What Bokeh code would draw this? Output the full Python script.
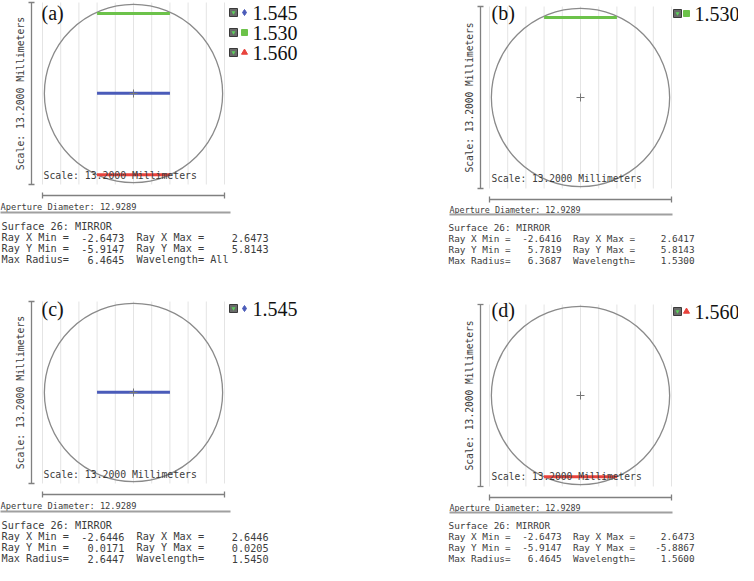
import numpy as np
from bokeh.plotting import figure
from bokeh.models import Range1d
from bokeh.core.properties import value
from bokeh.embed import file_html
from bokeh.resources import INLINE

# ---------------- data ----------------
panel_labels = ["(a)", "(b)", "(c)", "(d)"]
panel_waves = [["1.545", "1.530", "1.560"], ["1.530"], ["1.545"], ["1.560"]]

wave_names = ["1.545", "1.530", "1.560"]
wave_colors = ["#4a5bb9", "#6cc24a", "#e8433d"]
wave_markers = ["diamond", "square", "triangle"]
fp_x_min = [-2.6446, -2.6416, -2.6473]
fp_x_max = [2.6446, 2.6417, 2.6473]
fp_y_min = [0.0171, 5.7819, -5.9147]
fp_y_max = [0.0205, 5.8143, -5.8867]

ray_x_min = [-2.6473, -2.6416, -2.6446, -2.6473]
ray_x_max = [2.6473, 2.6417, 2.6446, 2.6473]
ray_y_min = [-5.9147, 5.7819, 0.0171, -5.9147]
ray_y_max = [5.8143, 5.8143, 0.0205, -5.8867]
max_radius = [6.4645, 6.3687, 2.6447, 6.4645]
wavelength_text = ["All", "1.5300", "1.5450", "1.5600"]
surface_name = "Surface 26: MIRROR"
aperture_diameter = 12.9289
scale_mm = 13.2000
grid_divisions = 10

# ---------------- layout (pixels) ----------------
W, H = 738, 565
S = 182.0 / scale_mm  # pixels per millimetre
centers = [(133, 93), (580, 97), (133, 392), (580, 395)]
legend_row0 = [-81, -84, -84, -84]
label_row = [-81, -85, -84, -86]

side_layout = [
    dict(vbar=-102, rot=-113, hbar=102, scl_x=-90, scl_y=82,
         ap_x=-133, ap_y=113, ap_size=8.7, sep_y=119, sep_x0=-134, sep_x1=97,
         sf_x=-132, sf_y0=133, sf_dy=11, sf_size=10.2,
         box=100, mk=111, tx=119, lab_x=-92, scl_size=9.8),
    dict(vbar=-100, rot=-111, hbar=102, scl_x=-89, scl_y=81,
         ap_x=-131, ap_y=112, ap_size=8.4, sep_y=117, sep_x0=-131, sep_x1=92,
         sf_x=-132, sf_y0=130, sf_dy=11, sf_size=9.4,
         box=97, mk=106, tx=114, lab_x=-89, scl_size=9.6),
]

MONO = "DejaVu Sans Mono"
SERIF = "Liberation Serif"
TXT = "#3c3c3c"

p = figure(width=W, height=H, output_backend="svg", toolbar_location=None,
           x_range=Range1d(0, W / S), y_range=Range1d(-H / S, 0),
           x_axis_location=None, y_axis_location=None,
           min_border=0, outline_line_color=None)
p.grid.visible = False


def draw_panel(k):
    L = side_layout[k % 2]
    ox, oy = centers[k][0] / S, -centers[k][1] / S  # panel origin (mm)

    def X(d):
        return ox + d / S

    def Y(d):
        return oy - d / S

    def txt(x, y, t, size, font=MONO, align="left", angle=0.0, color=TXT):
        p.text(x=[x], y=[y], text=[t], text_font=value(font),
               text_font_size=value(f"{size}px"), text_align=align,
               text_baseline="middle", angle=angle, text_color=color)

    half = scale_mm / 2
    # grid lines (vertical)
    gx = ox + np.linspace(-half, half, grid_divisions + 1)
    p.segment(x0=gx, y0=oy - half, x1=gx, y1=oy + half, line_color="#e4e4e4", line_width=1)

    # aperture circle
    p.circle(x=[ox], y=[oy], radius=aperture_diameter / 2, fill_color=None,
             line_color="#8a8a8a", line_width=1.3)

    # footprints
    for w in panel_waves[k]:
        i = wave_names.index(w)
        ym = oy + (fp_y_min[i] + fp_y_max[i]) / 2
        p.segment(x0=[ox + fp_x_min[i]], y0=[ym], x1=[ox + fp_x_max[i]], y1=[ym],
                  line_color=wave_colors[i], line_width=3)

    # centre cross
    p.scatter(x=[ox], y=[oy], marker="cross", size=8, line_color="#777777", line_width=1)

    # vertical scale bar
    vx = X(L["vbar"])
    c = 3 / S
    p.segment(x0=[vx], y0=[oy - half], x1=[vx], y1=[oy + half], line_color="#808080", line_width=1.3)
    p.segment(x0=[vx - c, vx - c], y0=[oy - half, oy + half], x1=[vx + c, vx + c],
              y1=[oy - half, oy + half], line_color="#808080", line_width=1.3)
    txt(X(L["rot"]), oy, f"Scale: {scale_mm:.4f} Millimeters", L["scl_size"],
        align="center", angle=np.pi / 2)

    # horizontal scale bar
    hy = Y(L["hbar"])
    p.segment(x0=[ox - half], y0=[hy], x1=[ox + half], y1=[hy], line_color="#808080", line_width=1.3)
    p.segment(x0=[ox - half, ox + half], y0=[hy - c, hy - c], x1=[ox - half, ox + half],
              y1=[hy + c, hy + c], line_color="#808080", line_width=1.3)

    # scale text inside box
    txt(X(L["scl_x"]), Y(L["scl_y"]), f"Scale: {scale_mm:.4f} Millimeters", L["scl_size"])

    # aperture text and separator
    txt(X(L["ap_x"]), Y(L["ap_y"]), f"Aperture Diameter: {aperture_diameter:.4f}", L["ap_size"])
    p.segment(x0=[X(L["sep_x0"])], y0=[Y(L["sep_y"])], x1=[X(L["sep_x1"])], y1=[Y(L["sep_y"])],
              line_color="#a0a0a0", line_width=2)

    # surface data text
    fs = L["sf_size"]
    cw = 0.602 * fs / S
    x0 = X(L["sf_x"])
    ys = [Y(L["sf_y0"] + j * L["sf_dy"]) for j in range(4)]
    txt(x0, ys[0], surface_name, fs)
    rows = [("Ray X Min =", ray_x_min[k], "Ray X Max =", ray_x_max[k]),
            ("Ray Y Min =", ray_y_min[k], "Ray Y Max =", ray_y_max[k])]
    for j, (l1, v1, l2, v2) in enumerate(rows):
        yy = ys[j + 1]
        txt(x0, yy, l1, fs)
        txt(x0 + 20 * cw, yy, f"{v1:.4f}", fs, align="right")
        txt(x0 + 22 * cw, yy, l2, fs)
        txt(x0 + 43.5 * cw, yy, f"{v2:.4f}", fs, align="right")
    txt(x0, ys[3], "Max Radius=", fs)
    txt(x0 + 20 * cw, ys[3], f"{max_radius[k]:.4f}", fs, align="right")
    if wavelength_text[k] == "All":
        txt(x0 + 22 * cw, ys[3], "Wavelength= " + wavelength_text[k], fs)
    else:
        txt(x0 + 22 * cw, ys[3], "Wavelength=", fs)
        txt(x0 + 43.5 * cw, ys[3], wavelength_text[k], fs, align="right")

    # legend
    for r, w in enumerate(panel_waves[k]):
        i = wave_names.index(w)
        ly = Y(legend_row0[k] + 20 * r)
        p.scatter(x=[X(L["box"])], y=[ly], marker="square", size=8,
                  fill_color="#6a6a6a", line_color="#3a3a3a", line_width=1)
        p.scatter(x=[X(L["box"])], y=[ly], marker="inverted_triangle", size=4,
                  fill_color="#5ad35a", line_color=None)
        p.scatter(x=[X(L["mk"])], y=[ly], marker=wave_markers[i], size=6,
                  fill_color=wave_colors[i], line_color=wave_colors[i])
        txt(X(L["tx"]), ly, w, 20, font=SERIF, color="#111111")

    # panel label
    txt(X(L["lab_x"]), Y(label_row[k]), panel_labels[k], 20, font=SERIF, color="#111111")


for k in range(4):
    draw_panel(k)

open("out.html", "w").write(file_html(p, INLINE))
